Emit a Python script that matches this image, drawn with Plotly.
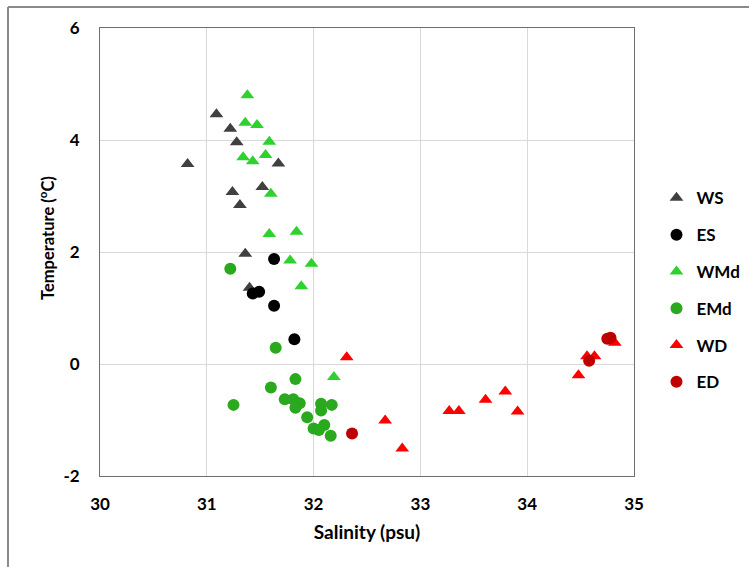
import plotly.graph_objects as go

# ---- data (salinity psu, temperature °C) ----
ws_sal = [31.09, 31.22, 31.28, 30.82, 31.67, 31.24, 31.52, 31.31, 31.36, 31.40]
ws_tmp = [4.46, 4.20, 3.96, 3.57, 3.58, 3.07, 3.16, 2.84, 1.97, 1.36]

es_sal = [31.63, 31.43, 31.49, 31.63, 31.82]
es_tmp = [1.875, 1.26, 1.29, 1.04, 0.44]

wmd_sal = [31.38, 31.36, 31.47, 31.585, 31.34, 31.43, 31.55, 31.60, 31.585, 31.84, 31.78, 31.98, 31.885, 32.19]
wmd_tmp = [4.80, 4.31, 4.27, 3.97, 3.69, 3.62, 3.73, 3.04, 2.32, 2.36, 1.85, 1.79, 1.39, -0.23]

emd_sal = [31.22, 31.645, 31.83, 31.60, 31.25, 31.73, 31.81, 31.87, 31.83, 32.07, 32.17, 32.07, 31.94, 32.00, 32.10, 32.05, 32.16]
emd_tmp = [1.70, 0.29, -0.27, -0.42, -0.73, -0.63, -0.63, -0.70, -0.78, -0.71, -0.73, -0.83, -0.95, -1.15, -1.09, -1.18, -1.28]

wd_sal = [32.31, 32.67, 32.83, 33.27, 33.36, 33.61, 33.795, 33.91, 34.48, 34.56, 34.63, 34.82]
wd_tmp = [0.12, -1.01, -1.51, -0.84, -0.84, -0.64, -0.49, -0.85, -0.20, 0.14, 0.14, 0.38]

ed_sal = [32.36, 34.58, 34.75, 34.78]
ed_tmp = [-1.24, 0.06, 0.45, 0.47]

x_ticks = [30, 31, 32, 33, 34, 35]
x_labels = ["30", "31", "32", "33", "34", "35"]
y_ticks = [-2, 0, 2, 4, 6]
y_labels = ["-2", "0", "2", "4", "6"]

FONT = "Lato"

series = [
    ("WS", ws_sal, ws_tmp, "triangle-up", "#404040"),
    ("ES", es_sal, es_tmp, "circle", "#000000"),
    ("WMd", wmd_sal, wmd_tmp, "triangle-up", "#2fd12f"),
    ("EMd", emd_sal, emd_tmp, "circle", "#2aa81e"),
    ("WD", wd_sal, wd_tmp, "triangle-up", "#ff0000"),
    ("ED", ed_sal, ed_tmp, "circle", "#c00000"),
]

fig = go.Figure()
for name, xs, ys, sym, col in series:
    fig.add_trace(go.Scatter(
        x=xs, y=ys, mode="markers", name=name, legendgroup=name,
        marker=dict(symbol=sym, color=col, size=12, line=dict(width=0)),
    ))

axis_common = dict(
    showgrid=True, gridcolor="#d9d9d9", gridwidth=1,
    showline=True, linecolor="#6e6e6e", linewidth=1, mirror=True,
    zeroline=False, ticks="", automargin=False,
    tickfont=dict(family=FONT, size=17, color="#000000", weight="bold"),
)

fig.update_xaxes(range=[30, 35], tickvals=x_ticks, ticktext=x_labels, ticklabelstandoff=13,
                 title=dict(text="Salinity (psu)", standoff=12,
                            font=dict(family=FONT, size=19, color="#000", weight="bold")),
                 **axis_common)
fig.update_yaxes(range=[-2, 6], tickvals=y_ticks, ticklabelstandoff=16,
                 ticktext=y_labels, **axis_common)

fig.update_layout(
    width=749, height=567, autosize=False,
    margin=dict(l=100, r=115, t=28, b=91, autoexpand=False),
    paper_bgcolor="white", plot_bgcolor="white",
    showlegend=True,
    legend=dict(xref="container", yref="container", x=0.8765, y=0.682,
                xanchor="left", yanchor="top",
                font=dict(family=FONT, size=17, color="#000", weight="bold"),
                tracegroupgap=11.7, itemwidth=30, bgcolor="rgba(0,0,0,0)"),
    annotations=[
        dict(text="Temperature (<sup>o</sup>C)", xref="paper", yref="paper",
             x=-53 / 534, y=(476 - 238) / 448, xanchor="center", yanchor="middle",
             textangle=-90, showarrow=False,
             font=dict(family=FONT, size=16.5, color="#000", weight="bold")),
    ],
    shapes=[
        dict(type="line", xref="paper", yref="paper", x0=-0.1723, x1=1.3, y0=1.047, y1=1.047,
             line=dict(color="#8a8a8a", width=2)),
        dict(type="line", xref="paper", yref="paper", x0=-0.1723, x1=-0.1723, y0=-0.3, y1=1.047,
             line=dict(color="#8a8a8a", width=2)),
    ],
)

post = ("document.body.style.margin='0';document.body.style.overflow='hidden';")

fig.write_html("out.html", config={"responsive": False, "displayModeBar": False},
               post_script=post)
